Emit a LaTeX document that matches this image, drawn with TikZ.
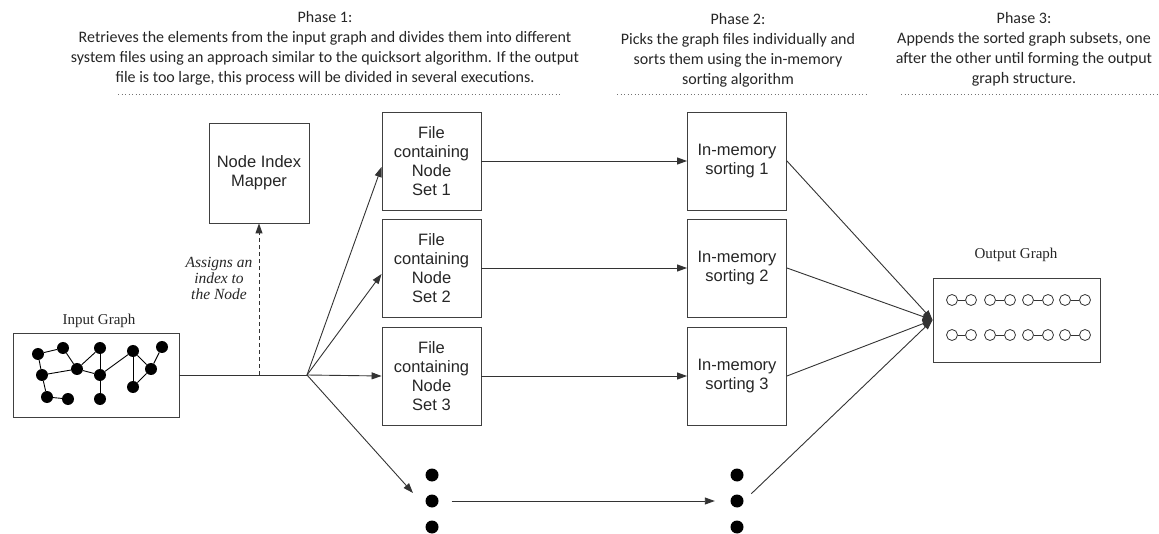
\documentclass[tikz,border=0pt]{standalone}
\usepackage{fontspec}
\setmainfont{Liberation Serif}
\newfontfamily\boxfont{Liberation Sans}
\newfontfamily\headfont{Carlito}
\usetikzlibrary{arrows.meta}
\begin{document}
\begin{tikzpicture}[x=1pt,y=-1pt,
  box/.style={draw=black!75, line width=0.9pt, minimum width=99pt, minimum height=98pt, inner sep=0pt, align=center, font=\boxfont\fontsize{16.5}{19}\selectfont, text=black!85},
  gbox/.style={draw=black!75, line width=0.9pt, minimum width=167pt, minimum height=84pt, inner sep=0pt},
  conn/.style={draw=black!80, line width=0.9pt},
  arr/.style={conn, -{Triangle[length=10pt,width=7pt]}},
  dasharr/.style={arr, dash pattern=on 4pt off 3pt},
  hdr/.style={align=center, font=\headfont\fontsize{16}{20}\selectfont, text=black!85},
  sep/.style={draw=black!55, line width=0.9pt, dash pattern=on 0.9pt off 2.6pt},
  glabel/.style={font=\fontsize{15}{17}\selectfont, text=black!85},
  gnode/.style={circle, fill=black, inner sep=0pt, minimum width=12pt, minimum height=12pt},
  gedge/.style={draw=black, line width=0.9pt},
  onode/.style={circle, draw=black!80, line width=0.8pt, inner sep=0pt, minimum size=11pt},
  bigdot/.style={circle, fill=black, inner sep=0pt, minimum size=13pt}]

\useasboundingbox (0,0) rectangle (1159,534);

% headers
\node[hdr] (h1) at (325,48) {Phase 1:\\Retrieves the elements from the input graph and divides them into different\\system files using an approach similar to the quicksort algorithm. If the output\\file is too large, this process will be divided in several executions.};
\node[hdr] (h2) at (738,50) {Phase 2:\\Picks the graph files individually and\\sorts them using the in-memory\\sorting algorithm};
\node[hdr] (h3) at (1024,49) {Phase 3:\\Appends the sorted graph subsets, one\\after the other until forming the output\\graph structure.};
\draw[sep] (118,94) -- (562,94);
\draw[sep] (617,94) -- (867,94);
\draw[sep] (901,94) -- (1159,94);

% boxes
\node[box, minimum width=100pt, minimum height=100pt] (nim) at (259,173) {Node Index\\Mapper};
\node[box] (f1) at (431.5,161) {File\\containing\\Node\\Set 1};
\node[box] (f2) at (431.5,268) {File\\containing\\Node\\Set 2};
\node[box] (f3) at (431.5,376) {File\\containing\\Node\\Set 3};
\node[box] (m1) at (737,161) {In-memory\\sorting 1};
\node[box] (m2) at (737,268) {In-memory\\sorting 2};
\node[box] (m3) at (737,376) {In-memory\\sorting 3};

% input graph
\node[gbox, minimum width=166pt] (inbox) at (96,375) {};
\node[glabel] (inlbl) at (99,321) {Input Graph};
\node[gnode] (a) at (38,354) {};
\node[gnode] (b) at (63,348) {};
\node[gnode] (c) at (100,348) {};
\node[gnode] (d) at (133,351) {};
\node[gnode] (e) at (162,347) {};
\node[gnode] (f) at (42,375) {};
\node[gnode] (g) at (77,369) {};
\node[gnode] (h) at (100,375) {};
\node[gnode] (i) at (151,369) {};
\node[gnode] (j) at (133,387) {};
\node[gnode] (k) at (47,397) {};
\node[gnode] (l) at (68,399) {};
\node[gnode] (m) at (100,399) {};
\foreach \u/\v in {a/b,a/f,b/g,f/g,g/c,g/h,c/h,h/d,d/j,d/i,i/e,i/j,f/k,k/l,h/m}
  \draw[gedge] (\u) -- (\v);

% output graph
\node[gbox] (outbox) at (1016.5,320) {};
\node[glabel] (outlbl) at (1016,255) {Output Graph};
\foreach \r/\yy in {1/300,2/335}{
  \foreach \n/\xa/\xb in {1/952/971,2/990/1010,3/1028/1048,4/1065/1085}{
    \node[onode] (o\r\n a) at (\xa,\yy) {};
    \node[onode] (o\r\n b) at (\xb,\yy) {};
    \draw[conn, line width=0.8pt] (o\r\n a) -- (o\r\n b);
  }
}

% dots
\node[bigdot] (dl1) at (432,475) {};
\node[bigdot] (dl2) at (432,501) {};
\node[bigdot] (dl3) at (432,527) {};
\node[bigdot] (dr1) at (737,475) {};
\node[bigdot] (dr2) at (737,501) {};
\node[bigdot] (dr3) at (737,527) {};

% connectors
\coordinate (split) at (307,375);
\coordinate (dashbase) at (259,375);
\coordinate (dotsin) at (413,493);
\draw[conn] (inbox.east) -- (split);
\draw[dasharr] (dashbase) -- (nim.south);
\node[font=\itshape\fontsize{15.5}{16}\selectfont, align=center, text=black!85] (assign) at (219,278) {Assigns an\\index to\\the Node};
\draw[arr] (split) -- ([yshift=-6pt]f1.west);
\draw[arr] (split) -- ([yshift=-6pt]f2.west);
\draw[arr] (split) -- (f3.west);
\draw[arr] (split) -- (dotsin);
\draw[arr] (f1.east) -- (m1.west);
\draw[arr] (f2.east) -- (m2.west);
\draw[arr] (f3.east) -- (m3.west);
\draw[arr, shorten <=13pt, shorten >=15.5pt] (dl2.east) -- (dr2.west);
\draw[arr] (m1.east) -- (outbox.west);
\draw[arr] (m2.east) -- (outbox.west);
\draw[arr] (m3.east) -- (outbox.west);
\draw[arr, shorten <=10.5pt] (dr2.east) -- (outbox.west);
\end{tikzpicture}
\end{document}
